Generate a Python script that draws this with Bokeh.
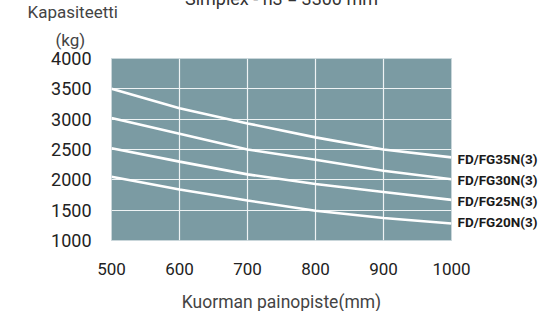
from bokeh.plotting import figure
from bokeh.models import Range1d, FixedTicker, LinearAxis, Title
from bokeh.embed import file_html
from bokeh.resources import INLINE

# ---- data ----
x_vals = [500, 600, 700, 800, 900, 1000]
fd35 = [3500, 3180, 2930, 2700, 2500, 2370]
fd30 = [3020, 2760, 2500, 2330, 2150, 2010]
fd25 = [2520, 2300, 2090, 1930, 1800, 1670]
fd20 = [2050, 1840, 1660, 1490, 1370, 1280]
series_names = ["FD/FG35N(3)", "FD/FG30N(3)", "FD/FG25N(3)", "FD/FG20N(3)"]
x_ticks = [500, 600, 700, 800, 900, 1000]
y_ticks = [1000, 1500, 2000, 2500, 3000, 3500, 4000]
title_text = "Simplex - h3 = 3300 mm"
y_label = ["Kapasiteetti", "(kg)"]
x_label = "Kuorman painopiste(mm)"

FONT = "Roboto"
SHIFT = 30  # canvas is shifted up so the title is cut at the top, like the reference

p = figure(output_backend="svg", toolbar_location=None,
           x_range=Range1d(500, 1000), y_range=Range1d(1000, 4000),
           frame_width=340, frame_height=182,
           min_border_left=111, min_border_right=100,
           min_border_top=58 + SHIFT, min_border_bottom=71,
           styles={"margin-top": f"-{SHIFT}px"})
p.outline_line_color = "#c9d6da"
p.outline_line_width = 1
p.background_fill_color = "#7b9ba3"
p.border_fill_color = "white"

p.xaxis.ticker = FixedTicker(ticks=x_ticks)
p.yaxis.ticker = FixedTicker(ticks=y_ticks)
for ax in (p.xaxis[0], p.yaxis[0]):
    ax.axis_line_color = None
    ax.major_tick_line_color = None
    ax.minor_tick_line_color = None
    ax.major_label_text_font = FONT
    ax.major_label_text_color = "#222222"
p.yaxis.major_label_text_font_size = "18px"
p.xaxis.major_label_text_font_size = "17px"
p.yaxis.major_label_standoff = 14
p.xaxis.major_label_standoff = 16
p.xaxis.axis_label = x_label
p.xaxis.axis_label_text_font = FONT
p.xaxis.axis_label_text_font_size = "17.5px"
p.xaxis.axis_label_text_font_style = "normal"
p.xaxis.axis_label_text_color = "#444444"
p.xaxis.axis_label_standoff = 14

p.xgrid.ticker = FixedTicker(ticks=x_ticks)
p.ygrid.ticker = FixedTicker(ticks=y_ticks)
p.grid.grid_line_color = "#eef3f4"
p.grid.grid_line_width = 1.2

all_series = [fd35, fd30, fd25, fd20]
for ys in all_series:
    p.line(x_vals, ys, line_color="white", line_width=2.6)

# series names as a right-hand axis, one tick per line end (nudged by a few px)
px_per_unit = 182 / 3000
label_nudge_px = [2, 1, 1, -2]
name_ticks = [round(ys[-1] - n / px_per_unit) for ys, n in zip(all_series, label_nudge_px)]
raxis = LinearAxis(ticker=FixedTicker(ticks=name_ticks),
                   major_label_overrides={t: n for t, n in zip(name_ticks, series_names)})
raxis.axis_line_color = None
raxis.major_tick_line_color = None
raxis.minor_tick_line_color = None
raxis.major_label_standoff = 0
raxis.major_label_text_font = FONT
raxis.major_label_text_font_size = "13.5px"
raxis.major_label_text_font_style = "bold"
raxis.major_label_text_color = "#1a1a1a"
p.add_layout(raxis, "right")

# titles stacked above the frame (first added sits closest to the frame;
# the figure's own title is outermost)
p.add_layout(Title(text=y_label[1], align="left", offset=-56, standoff=18,
                   text_font=FONT, text_font_size="17px", text_font_style="normal",
                   text_color="#444444"), "above")
p.add_layout(Title(text=y_label[0], align="left", offset=-84, standoff=-7,
                   text_font=FONT, text_font_size="17px", text_font_style="normal",
                   text_color="#444444"), "above")
p.title.text = title_text
p.title.align = "center"
p.title.standoff = -10
p.title.text_font = FONT
p.title.text_font_size = "18px"
p.title.text_font_style = "normal"
p.title.text_color = "#333333"

open("out.html", "w").write(file_html(p, INLINE))
